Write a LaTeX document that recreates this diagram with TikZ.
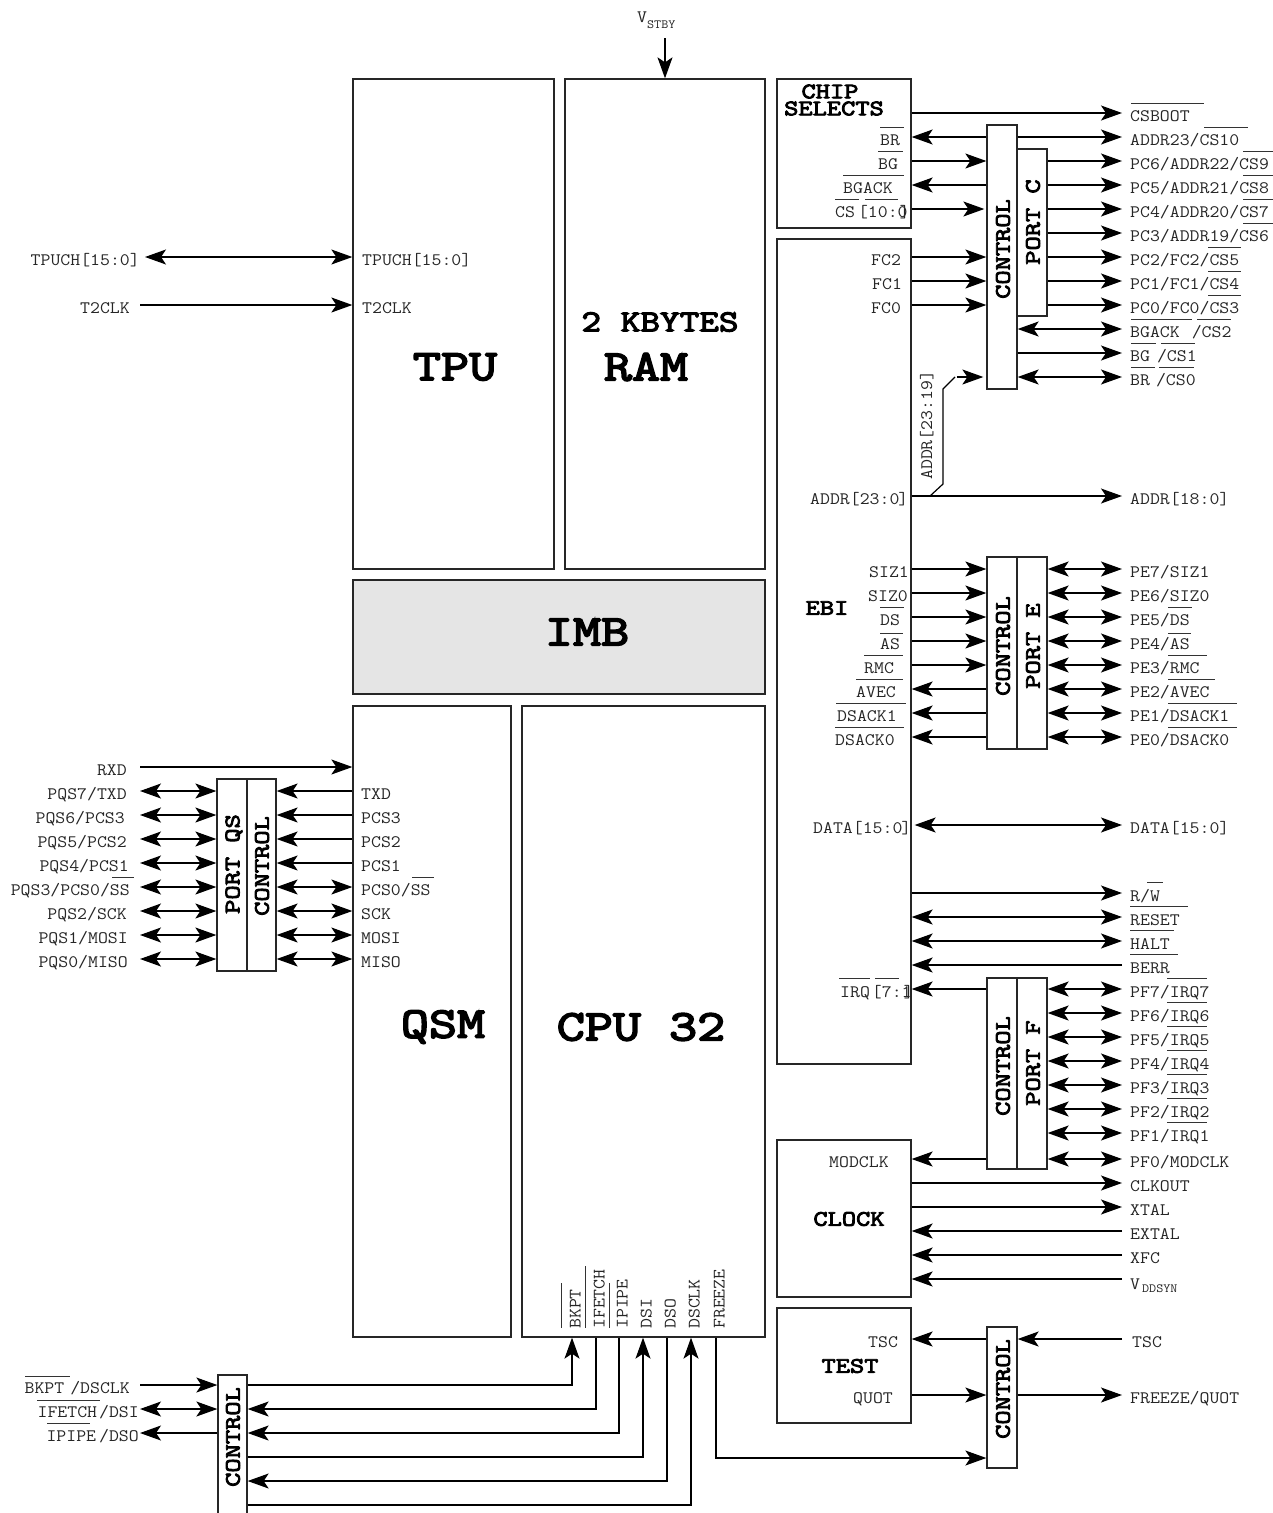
\documentclass[tikz,border=0pt]{standalone}
\usepackage{fontspec}
\newfontfamily\sigfont{Latin Modern Mono}[FakeStretch=1.1]
\newfontfamily\headfont{Latin Modern Mono}[FakeStretch=1.25, FakeBold=4]
\usetikzlibrary{arrows.meta,fit}
\tikzset{
  >={Stealth[length=21pt,width=15pt,inset=5pt]},
  block/.style={draw=black!85, line width=1.3pt, inner sep=0pt},
  wire/.style={draw=black, line width=1.2pt},
  bar/.style={draw=black!80, line width=1pt},
  sig/.style={font=\fontsize{17.5}{18}\sigfont, text=black!85, anchor=west, text height=17pt, text depth=0pt, inner xsep=0pt, inner ysep=0pt},
  pinr/.style={sig, inner xsep=8pt},
  pinl/.style={sig, anchor=east, inner xsep=10pt},
  title/.style={font=\fontsize{22.1}{23}\headfont, inner sep=0pt},
  midtitle/.style={font=\fontsize{30.5}{31}\headfont, inner sep=0pt},
  bigtitle/.style={font=\fontsize{43.6}{44}\headfont, inner sep=0pt}
}
\newcommand{\subtxt}[1]{\raisebox{-6pt}{\fontsize{12.5}{13}\selectfont #1}}
\begin{document}
\begin{tikzpicture}[x=1pt, y=-1pt]
    \useasboundingbox (0,0) rectangle (1273,1513);

    % Main blocks
    \node[block, fit={(353,79) (554,569)}] (tpu) {};
    \node[block, fit={(565,79) (765,569)}] (ram) {};
    \node[block, fill=black!10, fit={(353,580) (765,694)}] (imb) {};
    \node[block, fit={(353,706) (511,1337)}] (qsm) {};
    \node[block, fit={(522,706) (765,1337)}] (cpu) {};
    \node[block, fit={(777,79) (911,228)}] (chip) {};
    \node[block, fit={(777,239) (911,1064)}] (ebi) {};
    \node[block, fit={(777,1140) (911,1297)}] (clock) {};
    \node[block, fit={(777,1308) (911,1423)}] (test) {};

    % Port and control blocks
    \node[block, fit={(987,125) (1017,389)}] (ctlc) {};
    \node[block, fit={(1017,149) (1047,316)}] (portc) {};
    \node[block, fit={(987,557) (1017,749)}] (ctle) {};
    \node[block, fit={(1017,557) (1047,749)}] (porte) {};
    \node[block, fit={(987,978) (1017,1169)}] (ctlf) {};
    \node[block, fit={(1017,978) (1047,1169)}] (portf) {};
    \node[block, fit={(987,1327) (1017,1468)}] (ctlt) {};
    \node[block, fit={(217,779) (247,971)}] (portqs) {};
    \node[block, fit={(247,779) (276,971)}] (ctlqs) {};
    \node[block, fit={(218,1375) (247,1517)}] (ctld) {};

    % Block titles
    \node[bigtitle] (tputxt) at (455,367) {TPU};
    \node[midtitle] (kbytes) at (660,322) {2 KBYTES};
    \node[bigtitle] (ramtxt) at (646,367) {RAM};
    \node[bigtitle] (imbtxt) at (587,632) {IMB};
    \node[bigtitle] (qsmtxt) at (443,1027) {QSM};
    \node[bigtitle] (cputxt) at (641,1027) {CPU 32};
    \node[title, font=\fontsize{22.1}{17}\headfont, align=center] (chiptxt) at (834,100) {CHIP\kern8pt\\SELECTS};
    \node[title] (ebitxt) at (827,608) {EBI};
    \node[title] (clocktxt) at (849,1219) {CLOCK};
    \node[title] (testtxt) at (850,1366) {TEST};
    \node[title, rotate=90] (ctlctxt) at (1003,249) {CONTROL};
    \node[title, rotate=90] (portctxt) at (1033,222) {PORT C};
    \node[title, rotate=90] (ctletxt) at (1003,646) {CONTROL};
    \node[title, rotate=90] (portetxt) at (1033,646) {PORT E};
    \node[title, rotate=90] (ctlftxt) at (1003,1066) {CONTROL};
    \node[title, rotate=90] (portftxt) at (1033,1063) {PORT F};
    \node[title, rotate=90] (ctlttxt) at (1003,1389) {CONTROL};
    \node[title, rotate=90] (portqstxt) at (234,864) {PORT QS};
    \node[title, rotate=90] (ctlqstxt) at (262,866) {CONTROL};
    \node[title, rotate=90] (ctldtxt) at (233,1437) {CONTROL};

    % V stby
    \node[sig, anchor=south west, text height=10pt, text depth=15pt] (vstby) at (637,38) {V\subtxt{STBY}};
    \draw[wire, ->] (ram.north |- vstby.south) -- (ram.north);

    % TPU signals
    \node[sig] (tpuch) at (362,257) {TPUCH[15:0]};
    \node[sig] (t2clk) at (362,305) {T2CLK};
    \node[pinl, inner xsep=5pt] (tpuchp) at (145,257) {TPUCH[15:0]};
    \node[pinl] (t2clkp) at (140,305) {T2CLK};
    \draw[wire, <->] (tpuchp.east) -- (tpu.west |- tpuchp.east);
    \draw[wire, ->] (t2clkp.east) -- (tpu.west |- t2clkp.east);

    % Chip selects, port C
    \node[pinr] (csboot) at (1122,113) {CSBOOT};
    \node[pinr] (addr23) at (1122,137) {ADDR23/CS10};
    \node[pinr] (pc6) at (1122,161) {PC6/ADDR22/CS9};
    \node[pinr] (pc5) at (1122,185) {PC5/ADDR21/CS8};
    \node[pinr] (pc4) at (1122,209) {PC4/ADDR20/CS7};
    \node[pinr] (pc3) at (1122,233) {PC3/ADDR19/CS6};
    \node[pinr] (pc2) at (1122,257) {PC2/FC2/CS5};
    \node[pinr] (pc1) at (1122,281) {PC1/FC1/CS4};
    \node[pinr] (pc0) at (1122,305) {PC0/FC0/CS3};
    \node[pinr] (cs2) at (1122,329) {BGACK\kern12pt/CS2};
    \node[pinr] (cs1) at (1122,353) {BG\kern7pt/CS1};
    \node[pinr] (cs0) at (1122,377) {BR\kern6pt/CS0};
    \node[sig] (br) at (880,137) {BR};
    \node[sig] (bg) at (878,161) {BG};
    \node[sig] (bgack) at (843,185) {BGACK};
    \node[sig] (csin) at (835,209) {CS\kern3pt[10:0\kern-8pt]};
    \node[sig] (fc2) at (871,257) {FC2};
    \node[sig] (fc1) at (872,281) {FC1};
    \node[sig] (fc0) at (871,305) {FC0};
    \draw[wire, ->] (chip.east |- csboot.west) -- (csboot.west);
    \draw[wire, ->] (ctlc.east |- addr23.west) -- (addr23.west);
    \draw[wire, ->] (portc.east |- pc6.west) -- (pc6.west);
    \draw[wire, ->] (portc.east |- pc5.west) -- (pc5.west);
    \draw[wire, ->] (portc.east |- pc4.west) -- (pc4.west);
    \draw[wire, ->] (portc.east |- pc3.west) -- (pc3.west);
    \draw[wire, ->] (portc.east |- pc2.west) -- (pc2.west);
    \draw[wire, ->] (portc.east |- pc1.west) -- (pc1.west);
    \draw[wire, ->] (portc.east |- pc0.west) -- (pc0.west);
    \draw[wire, <->] (ctlc.east |- cs2.west) -- (cs2.west);
    \draw[wire, ->] (ctlc.east |- cs1.west) -- (cs1.west);
    \draw[wire, <->] (ctlc.east |- cs0.west) -- (cs0.west);
    \draw[wire, ->] (ctlc.west |- br) -- (chip.east |- br);
    \draw[wire, ->] (chip.east |- bg) -- (ctlc.west |- bg);
    \draw[wire, ->] (ctlc.west |- bgack) -- (chip.east |- bgack);
    \draw[wire, ->] (chip.east |- csin) -- ([xshift=-2pt]ctlc.west |- csin);
    \draw[wire, ->] (ebi.east |- fc2) -- (ctlc.west |- fc2);
    \draw[wire, ->] (ebi.east |- fc1) -- (ctlc.west |- fc1);
    \draw[wire, ->] (ebi.east |- fc0) -- (ctlc.west |- fc0);
    \draw[bar] (1131,103) -- (1204,103);
    \draw[bar] (1204,127) -- (1248,127);
    \draw[bar] (1243,151) -- (1273,151);
    \draw[bar] (1243,175) -- (1273,175);
    \draw[bar] (1243,199) -- (1273,199);
    \draw[bar] (1243,223) -- (1273,223);
    \draw[bar] (1208,247) -- (1241,247);
    \draw[bar] (1208,271) -- (1241,271);
    \draw[bar] (1208,295) -- (1241,295);
    \draw[bar] (1131,319) -- (1192,319);
    \draw[bar] (1197,319) -- (1231,319);
    \draw[bar] (1131,343) -- (1156,343);
    \draw[bar] (1161,343) -- (1195,343);
    \draw[bar] (1131,367) -- (1155,367);
    \draw[bar] (1159,367) -- (1194,367);
    \draw[bar] (880,127) -- (904,127);
    \draw[bar] (878,151) -- (903,151);
    \draw[bar] (843,175) -- (904,175);
    \draw[bar] (835,199) -- (859,199);
    \draw[bar] (865,199) -- (898,199);

    % Address bus
    \node[sig] (addrin) at (810,496) {ADDR[23:0\kern-1pt]};
    \node[pinr] (addrout) at (1122,496) {ADDR[18:0]};
    \node[sig, rotate=90] (addrbr) at (923.5,480) {ADDR[23:19]};
    \coordinate (bendin) at (957,377);
    \draw[wire, ->] (ebi.east |- addrout.west) -- (addrout.west);
    \draw[wire] (930,496) -- (943,484) -- (943,389) -- (955,377);
    \draw[wire, ->] (bendin) -- ([xshift=-3pt]ctlc.west |- bendin);

    % EBI, port E
    \node[sig] (siz1) at (869,569) {SIZ1};
    \node[sig] (siz0) at (868,593) {SIZ0};
    \node[sig] (ds) at (880,617) {DS};
    \node[sig] (as) at (880,641) {AS};
    \node[sig] (rmc) at (864,665) {RMC};
    \node[sig] (avec) at (856,689) {AVEC};
    \node[sig] (dsack1) at (837,713) {DSACK1};
    \node[sig] (dsack0) at (835,737) {DSACK0};
    \node[pinr] (pe7) at (1122,569) {PE7/SIZ1};
    \node[pinr] (pe6) at (1122,593) {PE6/SIZ0};
    \node[pinr] (pe5) at (1122,617) {PE5/DS};
    \node[pinr] (pe4) at (1122,641) {PE4/AS};
    \node[pinr] (pe3) at (1122,665) {PE3/RMC};
    \node[pinr] (pe2) at (1122,689) {PE2/AVEC};
    \node[pinr] (pe1) at (1122,713) {PE1/DSACK1};
    \node[pinr] (pe0) at (1122,737) {PE0/DSACK0};
    \draw[wire, ->] (ebi.east |- siz1) -- (ctle.west |- siz1);
    \draw[wire, ->] (ebi.east |- siz0) -- (ctle.west |- siz0);
    \draw[wire, ->] (ebi.east |- ds) -- (ctle.west |- ds);
    \draw[wire, ->] (ebi.east |- as) -- (ctle.west |- as);
    \draw[wire, ->] (ebi.east |- rmc) -- (ctle.west |- rmc);
    \draw[wire, ->] (ctle.west |- avec) -- (ebi.east |- avec);
    \draw[wire, ->] (ctle.west |- dsack1) -- (ebi.east |- dsack1);
    \draw[wire, ->] (ctle.west |- dsack0) -- (ebi.east |- dsack0);
    \draw[wire, <->] (porte.east |- pe7.west) -- (pe7.west);
    \draw[wire, <->] (porte.east |- pe6.west) -- (pe6.west);
    \draw[wire, <->] (porte.east |- pe5.west) -- (pe5.west);
    \draw[wire, <->] (porte.east |- pe4.west) -- (pe4.west);
    \draw[wire, <->] (porte.east |- pe3.west) -- (pe3.west);
    \draw[wire, <->] (porte.east |- pe2.west) -- (pe2.west);
    \draw[wire, <->] (porte.east |- pe1.west) -- (pe1.west);
    \draw[wire, <->] (porte.east |- pe0.west) -- (pe0.west);
    \draw[bar] (880,607) -- (904,607);
    \draw[bar] (880,633) -- (903,633);
    \draw[bar] (864,655) -- (903,655);
    \draw[bar] (856,679) -- (903,679);
    \draw[bar] (836,703) -- (906,703);
    \draw[bar] (835,727) -- (904,727);
    \draw[bar] (1168,607) -- (1192,607);
    \draw[bar] (1168,633) -- (1191,633);
    \draw[bar] (1168,655) -- (1207,655);
    \draw[bar] (1168,679) -- (1215,679);
    \draw[bar] (1168,703) -- (1237,703);
    \draw[bar] (1168,727) -- (1237,727);

    % Data bus and bus control
    \node[sig] (datain) at (813,825) {DATA[15:0\kern-1pt]};
    \node[pinr] (dataout) at (1122,825) {DATA[15:0]};
    \node[pinr] (rw) at (1122,893) {R/W};
    \node[pinr] (reset) at (1122,917) {RESET};
    \node[pinr] (halt) at (1122,941) {HALT};
    \node[pinr] (berr) at (1122,965) {BERR};
    \draw[wire, <->] ([xshift=3pt]ebi.east |- dataout.west) -- (dataout.west);
    \draw[wire, ->] (ebi.east |- rw.west) -- (rw.west);
    \draw[wire, <->] (ebi.east |- reset.west) -- (reset.west);
    \draw[wire, <->] (ebi.east |- halt.west) -- (halt.west);
    \draw[wire, ->] (berr.west) -- (ebi.east |- berr.west);
    \draw[bar] (1147,882) -- (1163,882);
    \draw[bar] (1130,906) -- (1188,906);
    \draw[bar] (1130,930) -- (1174,930);
    \draw[bar] (1130,954) -- (1178,954);

    % Port F
    \node[sig] (irq) at (840,989) {IRQ\kern2pt[7:1\kern-8pt]};
    \node[pinr] (pf7) at (1122,989) {PF7/IRQ7};
    \node[pinr] (pf6) at (1122,1013) {PF6/IRQ6};
    \node[pinr] (pf5) at (1122,1037) {PF5/IRQ5};
    \node[pinr] (pf4) at (1122,1061) {PF4/IRQ4};
    \node[pinr] (pf3) at (1122,1085) {PF3/IRQ3};
    \node[pinr] (pf2) at (1122,1109) {PF2/IRQ2};
    \node[pinr] (pf1) at (1122,1133) {PF1/IRQ1};
    \node[pinr] (pf0) at (1122,1159) {PF0/MODCLK};
    \node[sig] (modclk) at (829,1159) {MODCLK};
    \draw[wire, ->] (ctlf.west |- irq) -- (ebi.east |- irq);
    \draw[wire, ->] (ctlf.west |- modclk) -- (clock.east |- modclk);
    \draw[wire, <->] (portf.east |- pf7.west) -- (pf7.west);
    \draw[wire, <->] (portf.east |- pf6.west) -- (pf6.west);
    \draw[wire, <->] (portf.east |- pf5.west) -- (pf5.west);
    \draw[wire, <->] (portf.east |- pf4.west) -- (pf4.west);
    \draw[wire, <->] (portf.east |- pf3.west) -- (pf3.west);
    \draw[wire, <->] (portf.east |- pf2.west) -- (pf2.west);
    \draw[wire, <->] (portf.east |- pf1.west) -- (pf1.west);
    \draw[wire, <->] (portf.east |- pf0.west) -- (pf0.west);
    \draw[bar] (839,978) -- (870,978);
    \draw[bar] (875,978) -- (899,978);
    \draw[bar] (1167,978) -- (1207,978);
    \draw[bar] (1167,1002) -- (1207,1002);
    \draw[bar] (1167,1026) -- (1207,1026);
    \draw[bar] (1167,1050) -- (1207,1050);
    \draw[bar] (1167,1074) -- (1207,1074);
    \draw[bar] (1167,1098) -- (1207,1098);
    \draw[bar] (1167,1122) -- (1207,1122);

    % Clock
    \node[pinr] (clkout) at (1122,1183) {CLKOUT};
    \node[pinr] (xtal) at (1122,1207) {XTAL};
    \node[pinr] (extal) at (1122,1231) {EXTAL};
    \node[pinr] (xfc) at (1122,1255) {XFC};
    \node[pinr, text height=21pt] (vddsyn) at (1122,1279) {V\kern2pt\raisebox{-3pt}{\fontsize{12.5}{13}\selectfont DDSYN}};
    \draw[wire, ->] (clock.east |- clkout.west) -- (clkout.west);
    \draw[wire, ->] (clock.east |- xtal.west) -- (xtal.west);
    \draw[wire, ->] (extal.west) -- (clock.east |- extal.west);
    \draw[wire, ->] (xfc.west) -- (clock.east |- xfc.west);
    \draw[wire, ->] (vddsyn.west) -- (clock.east |- vddsyn.west);

    % Test
    \node[sig] (tsc) at (868,1339) {TSC};
    \node[sig] (quot) at (853,1395) {QUOT};
    \node[pinr, inner xsep=10pt] (tscp) at (1122,1339) {TSC};
    \node[pinr] (frzquot) at (1122,1395) {FREEZE/QUOT};
    \draw[wire, ->] (tscp.west) -- (ctlt.east |- tscp.west);
    \draw[wire, ->] (ctlt.west |- tsc) -- (test.east |- tsc);
    \draw[wire, ->] (test.east |- quot) -- (ctlt.west |- quot);
    \draw[wire, ->] (ctlt.east |- frzquot.west) -- (frzquot.west);

    % QSM, port QS
    \node[pinl, inner xsep=13pt] (rxd) at (140,767) {RXD};
    \node[pinl, inner xsep=13pt] (pqs7) at (140,791) {PQS7/TXD};
    \node[pinl, inner xsep=15pt] (pqs6) at (140,815) {PQS6/PCS3};
    \node[pinl, inner xsep=13pt] (pqs5) at (140,839) {PQS5/PCS2};
    \node[pinl, inner xsep=11pt] (pqs4) at (140,863) {PQS4/PCS1};
    \node[pinl] (pqs3) at (140,887) {PQS3/PCS0/SS};
    \node[pinl, inner xsep=13pt] (pqs2) at (140,911) {PQS2/SCK};
    \node[pinl, inner xsep=12pt] (pqs1) at (140,935) {PQS1/MOSI};
    \node[pinl, inner xsep=12pt] (pqs0) at (140,959) {PQS0/MISO};
    \node[sig] (txd) at (361,791) {TXD};
    \node[sig] (pcs3) at (361,815) {PCS3};
    \node[sig] (pcs2) at (361,839) {PCS2};
    \node[sig] (pcs1) at (361,863) {PCS1};
    \node[sig] (pcs0) at (361,887) {PCS0/SS};
    \node[sig] (sck) at (361,911) {SCK};
    \node[sig] (mosi) at (361,935) {MOSI};
    \node[sig] (miso) at (361,959) {MISO};
    \draw[wire, ->] (rxd.east) -- (qsm.west |- rxd.east);
    \draw[wire, <->] (pqs7.east) -- (portqs.west |- pqs7.east);
    \draw[wire, <->] (pqs6.east) -- (portqs.west |- pqs6.east);
    \draw[wire, <->] (pqs5.east) -- (portqs.west |- pqs5.east);
    \draw[wire, <->] (pqs4.east) -- (portqs.west |- pqs4.east);
    \draw[wire, <->] (pqs3.east) -- (portqs.west |- pqs3.east);
    \draw[wire, <->] (pqs2.east) -- (portqs.west |- pqs2.east);
    \draw[wire, <->] (pqs1.east) -- (portqs.west |- pqs1.east);
    \draw[wire, <->] (pqs0.east) -- (portqs.west |- pqs0.east);
    \draw[wire, ->] (qsm.west |- txd) -- (ctlqs.east |- txd);
    \draw[wire, ->] (qsm.west |- pcs3) -- (ctlqs.east |- pcs3);
    \draw[wire, ->] (qsm.west |- pcs2) -- (ctlqs.east |- pcs2);
    \draw[wire, ->] (qsm.west |- pcs1) -- (ctlqs.east |- pcs1);
    \draw[wire, <->] (qsm.west |- pcs0) -- (ctlqs.east |- pcs0);
    \draw[wire, <->] (qsm.west |- sck) -- (ctlqs.east |- sck);
    \draw[wire, <->] (qsm.west |- mosi) -- (ctlqs.east |- mosi);
    \draw[wire, <->] (qsm.west |- miso) -- (ctlqs.east |- miso);
    \draw[bar] (112,877) -- (134,877);
    \draw[bar] (412,877) -- (434,877);

    % Background debug
    \node[sig, rotate=90] (bkpt) at (572,1329) {BKPT};
    \node[sig, rotate=90] (ifetch) at (596,1329) {IFETCH};
    \node[sig, rotate=90] (ipipe) at (619,1329) {IPIPE};
    \node[sig, rotate=90] (dsi) at (643,1329) {DSI};
    \node[sig, rotate=90] (dso) at (667,1329) {DSO};
    \node[sig, rotate=90] (dsclk) at (691,1329) {DSCLK};
    \node[sig, rotate=90] (freeze) at (716,1329) {FREEZE};
    \node[pinl] (bkptp) at (140,1385) {BKPT\kern6pt/DSCLK};
    \node[pinl, inner xsep=1pt] (ifetchp) at (140,1409) {IFETCH\kern2pt/DSI};
    \node[pinl, inner xsep=1pt] (ipipep) at (140,1433) {IPIPE\kern3pt/DSO};
    \draw[wire, ->] (bkptp.east) -- (ctld.west |- bkptp.east);
    \draw[wire, <->] (ifetchp.east) -- (ctld.west |- ifetchp.east);
    \draw[wire, ->] (ctld.west |- ipipep.east) -- (ipipep.east);
    \draw[wire, ->] (ctld.east |- bkptp.east) -| (bkpt.west |- cpu.south);
    \draw[wire, ->] (ifetch.west |- cpu.south) |- (ctld.east |- ifetchp.east);
    \draw[wire, ->] (ipipe.west |- cpu.south) |- (ctld.east |- ipipep.east);
    \draw[wire, ->] (ctld.east |- 0,1457) -| (dsi.west |- cpu.south);
    \draw[wire, ->] (dso.west |- cpu.south) |- (ctld.east |- 0,1481);
    \draw[wire, ->] (ctld.east |- 0,1505) -| (dsclk.west |- cpu.south);
    \draw[wire, ->] (freeze.west |- cpu.south) |- (ctlt.west |- 0,1458);
    \draw[bar] (561,1283) -- (561,1328);
    \draw[bar] (585,1266) -- (585,1328);
    \draw[bar] (609,1283) -- (609,1328);
    \draw[bar] (25,1376) -- (70,1376);
    \draw[bar] (37,1400) -- (100,1400);
    \draw[bar] (47,1423) -- (90,1423);
\end{tikzpicture}
\end{document}
